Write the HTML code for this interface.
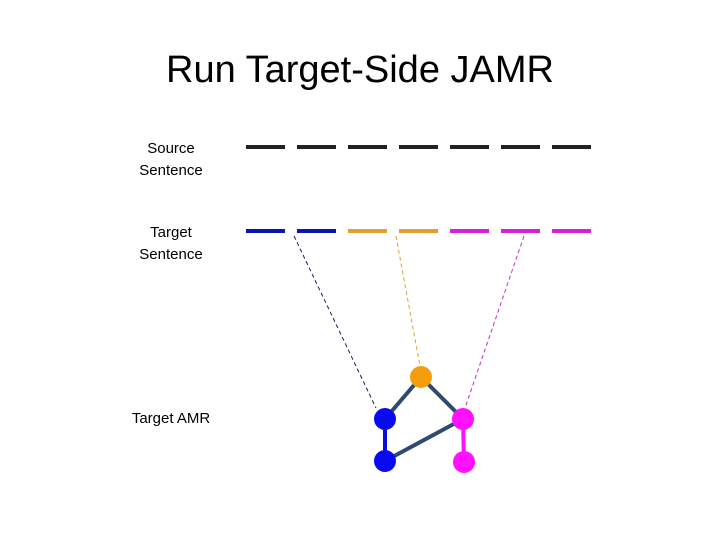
<!DOCTYPE html>
<html><head><style>
body{margin:0;width:720px;height:540px;background:#fff;overflow:hidden;font-family:"Liberation Sans",Calibri,sans-serif}
</style></head><body>
<svg width="720" height="540" xmlns="http://www.w3.org/2000/svg" style="position:absolute;left:0;top:0">
<text x="360" y="82" text-anchor="middle" font-family="Liberation Sans, sans-serif" font-size="38" fill="#000">Run Target-Side JAMR</text>
<g font-family="Liberation Sans, sans-serif" font-size="15" fill="#000" text-anchor="middle">
<text x="171" y="153">Source</text><text x="171" y="175">Sentence</text>
<text x="171" y="237">Target</text><text x="171" y="259">Sentence</text>
<text x="171" y="423">Target AMR</text>
</g>
<g stroke-width="4">
<g stroke="#222">
<line x1="246" y1="147" x2="285" y2="147"/><line x1="297" y1="147" x2="336" y2="147"/><line x1="348" y1="147" x2="387" y2="147"/><line x1="399" y1="147" x2="438" y2="147"/><line x1="450" y1="147" x2="489" y2="147"/><line x1="501" y1="147" x2="540" y2="147"/><line x1="552" y1="147" x2="591" y2="147"/>
</g>
<line x1="246" y1="231" x2="285" y2="231" stroke="#0a14b4"/><line x1="297" y1="231" x2="336" y2="231" stroke="#0a14b4"/>
<line x1="348" y1="231" x2="387" y2="231" stroke="#e3a02e"/><line x1="399" y1="231" x2="438" y2="231" stroke="#e3a02e"/>
<line x1="450" y1="231" x2="489" y2="231" stroke="#d820d8"/><line x1="501" y1="231" x2="540" y2="231" stroke="#d820d8"/><line x1="552" y1="231" x2="591" y2="231" stroke="#d820d8"/>
</g>
<g stroke-width="1" stroke-dasharray="4,3" fill="none">
<line x1="294" y1="236" x2="376" y2="408" stroke="#1a1a60"/>
<line x1="396" y1="236" x2="420" y2="366" stroke="#e3a02e"/>
<line x1="524" y1="236" x2="465" y2="408" stroke="#c030c0"/>
</g>
<g stroke="#2e4a70" stroke-width="4">
<line x1="421" y1="377" x2="385" y2="419"/><line x1="421" y1="377" x2="463" y2="419"/><line x1="463" y1="419" x2="385" y2="461"/>
</g>
<line x1="385" y1="419" x2="385" y2="461" stroke="#0a0ae0" stroke-width="4"/>
<line x1="463" y1="419" x2="464" y2="462" stroke="#ff10ff" stroke-width="4"/>
<circle cx="421" cy="377" r="11" fill="#f59e0b"/>
<circle cx="385" cy="419" r="11" fill="#0a0af0"/>
<circle cx="385" cy="461" r="11" fill="#0a0af0"/>
<circle cx="463" cy="419" r="11" fill="#ff10ff"/>
<circle cx="464" cy="462" r="11" fill="#ff10ff"/>
</svg>
</body></html>
